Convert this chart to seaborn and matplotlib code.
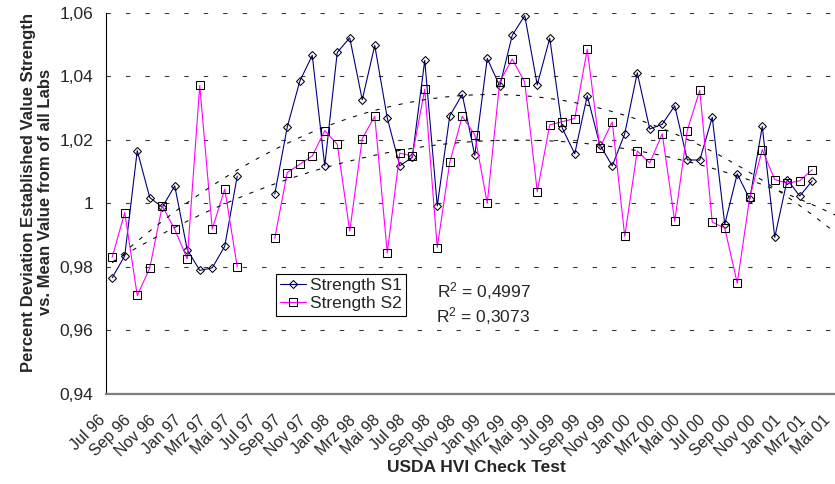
import numpy as np
import pandas as pd
import matplotlib
matplotlib.use("Agg")
import matplotlib.pyplot as plt
import matplotlib.transforms as mtrans
from matplotlib.lines import Line2D
import seaborn as sns

# Monthly check-test results, Jul 96 onwards (None = no test that month)
strength_s1 = [
    0.9766, 0.9835, 1.0166, 1.0018, 0.9988, 1.0055, 0.9854, 0.9789, 0.9797, 0.9865,
    1.0086, None, None, 1.0029, 1.0240, 1.0384, 1.0466, 1.0118, 1.0475, 1.0521,
    1.0326, 1.0497, 1.0269, 1.0118, 1.0145, 1.0450, 0.9992, 1.0275, 1.0343, 1.0151,
    1.0456, 1.0369, 1.0529, 1.0591, 1.0373, 1.0520, 1.0237, 1.0156, 1.0339, 1.0185,
    1.0118, 1.0219, 1.0411, 1.0234, 1.0249, 1.0307, 1.0137, 1.0136, 1.0271, 0.9934,
    1.0093, 1.0013, 1.0242, 0.9893, 1.0075, 1.0023, 1.0071,
]
strength_s2 = [
    0.9831, 0.9971, 0.9710, 0.9796, 0.9992, 0.9918, 0.9826, 1.0371, 0.9919, 1.0045,
    0.9800, None, None, 0.9890, 1.0097, 1.0123, 1.0149, 1.0229, 1.0186, 0.9913,
    1.0204, 1.0274, 0.9844, 1.0158, 1.0149, 1.0359, 0.9861, 1.0129, 1.0274, 1.0216,
    1.0000, 1.0383, 1.0454, 1.0381, 1.0037, 1.0247, 1.0257, 1.0267, 1.0485, 1.0175,
    1.0256, 0.9896, 1.0165, 1.0127, 1.0219, 0.9943, 1.0229, 1.0356, 0.9941, 0.9922,
    0.9749, 1.0019, 1.0169, 1.0075, 1.0063, 1.0071, 1.0106,
]
series_names = ["Strength S1", "Strength S2"]
r2_labels = ["R$^2$ = 0,4997", "R$^2$ = 0,3073"]

tick_labels = [
    "Jul 96", "Sep 96", "Nov 96", "Jan 97", "Mrz 97", "Mai 97", "Jul 97", "Sep 97",
    "Nov 97", "Jan 98", "Mrz 98", "Mai 98", "Jul 98", "Sep 98", "Nov 98", "Jan 99",
    "Mrz 99", "Mai 99", "Jul 99", "Sep 99", "Nov 99", "Jan 00", "Mrz 00", "Mai 00",
    "Jul 00", "Sep 00", "Nov 00", "Jan 01", "Mrz 01", "Mai 01",
]
y_ticks = [0.94, 0.96, 0.98, 1.00, 1.02, 1.04, 1.06]
y_tick_labels = ["0,94", "0,96", "0,98", "1", "1,02", "1,04", "1,06"]

# ---- long table; a new segment starts after each missing month ----
frames = []
for name, vals in zip(series_names, [strength_s1, strength_s2]):
    v = np.array([np.nan if x is None else x for x in vals], dtype=float)
    pos = np.arange(len(v)) + 0.5          # mid-month position, month 0 = Jul 96
    seg = np.cumsum(np.isnan(v))
    frames.append(pd.DataFrame({"pos": pos, "value": v, "series": name, "segment": seg}))
df = pd.concat(frames, ignore_index=True).dropna()

sns.set_style("white")
plt.rcParams["font.family"] = ["Liberation Sans", "DejaVu Sans"]
plt.rcParams["mathtext.fontset"] = "custom"
plt.rcParams["mathtext.rm"] = "Liberation Sans"
plt.rcParams["mathtext.default"] = "regular"
plt.rcParams["lines.scale_dashes"] = False

W, H = 835, 484
fig = plt.figure(figsize=(W / 100, H / 100), dpi=100)
ax_left, ax_right, ax_top, ax_bottom = 106, 835, 12.7, 394
ax = fig.add_axes([ax_left / W, 1 - ax_bottom / H, (ax_right - ax_left) / W, (ax_bottom - ax_top) / H])

x_max = (ax_right - ax_left) / 12.5
ax.set_xlim(0, x_max)
ax.set_ylim(0.94, 1.06)

# dashed horizontal gridlines
for yv in y_ticks[1:]:
    ax.axhline(yv, color="#3a3a3a", lw=0.8, ls=(0, (3.2, 10.8)), zorder=0)

colors = {"Strength S1": "#000080", "Strength S2": "#FF00FF"}
markers = {"Strength S1": "D", "Strength S2": "s"}
sns.lineplot(
    data=df, x="pos", y="value", hue="series", style="series", units="segment",
    estimator=None, palette=colors, markers=markers, dashes=False, legend=False,
    ax=ax, lw=0.8, markersize=4.6, markerfacecolor="none",
    markeredgecolor="black", markeredgewidth=0.75, zorder=3,
)
# sizes differ by marker shape
for line in ax.lines:
    if line.get_marker() == "s":
        line.set_markersize(6.0)
    elif line.get_marker() == "D":
        line.set_markersize(4.1)

# second-order polynomial trendlines
xs = np.linspace(0.5, 60, 300)
for name in series_names:
    sub = df[df["series"] == name]
    coef = np.polyfit(sub["pos"], sub["value"], 2)
    ax.plot(xs, np.polyval(coef, xs), color="black", lw=0.75, ls=(0, (3.0, 5.5)), zorder=4)

# axes styling
for side in ["top", "right"]:
    ax.spines[side].set_visible(False)
ax.spines["left"].set_color("black")
ax.spines["left"].set_linewidth(0.8)
ax.spines["bottom"].set_color("#7f7f7f")
ax.spines["bottom"].set_linewidth(1.6)

ax.set_yticks(y_ticks)
ax.set_yticklabels(y_tick_labels)
ax.set_xticks(np.arange(0, 2 * len(tick_labels), 2))
ax.set_xticklabels(tick_labels, rotation=45, ha="right", va="top", rotation_mode="anchor")
ax.tick_params(axis="y", direction="out", length=4.3, width=0.8, color="black", pad=5, labelsize=12.5)
ax.tick_params(axis="x", direction="out", length=4.3, width=0.8, color="black", pad=9, labelsize=11.5)
shift = mtrans.ScaledTranslation(-8 / 100, 0, fig.dpi_scale_trans)
for lab in ax.get_xticklabels():
    lab.set_transform(lab.get_transform() + shift)
ax.set_xlabel("")
ax.set_ylabel("")

# legend box
handles = [
    Line2D([], [], color=colors[n], lw=0.8, marker=markers[n],
           markersize=(4.1 if markers[n] == "D" else 6.0),
           markerfacecolor="none", markeredgecolor="black", markeredgewidth=0.75)
    for n in series_names
]
leg = ax.legend(
    handles, series_names, loc="upper left",
    bbox_to_anchor=(276 / W, 1 - 274 / H), bbox_transform=fig.transFigure,
    fontsize=12.5, frameon=True, fancybox=False, shadow=False, framealpha=1,
    edgecolor="black", borderpad=0.25, labelspacing=0.15, handlelength=1.5,
    handletextpad=0.2, borderaxespad=0,
)
leg.get_frame().set_linewidth(0.8)

# fit quality annotations
fig.text(437 / W, 1 - 291 / H, r2_labels[0], fontsize=12.5, ha="left", va="center")
fig.text(436 / W, 1 - 316 / H, r2_labels[1], fontsize=12.5, ha="left", va="center")

# axis titles
fig.text(37 / W, 1 - 192 / H,
         "Percent Deviation Established Value Strength\nvs. Mean Value from of all Labs",
         rotation=90, ha="center", va="center", fontsize=12, fontweight="bold",
         multialignment="center", linespacing=1.15)
fig.text(476 / W, 1 - 468 / H, "USDA HVI Check Test", ha="center", va="center",
         fontsize=12.5, fontweight="bold")

fig.savefig("out.png", dpi=100)
